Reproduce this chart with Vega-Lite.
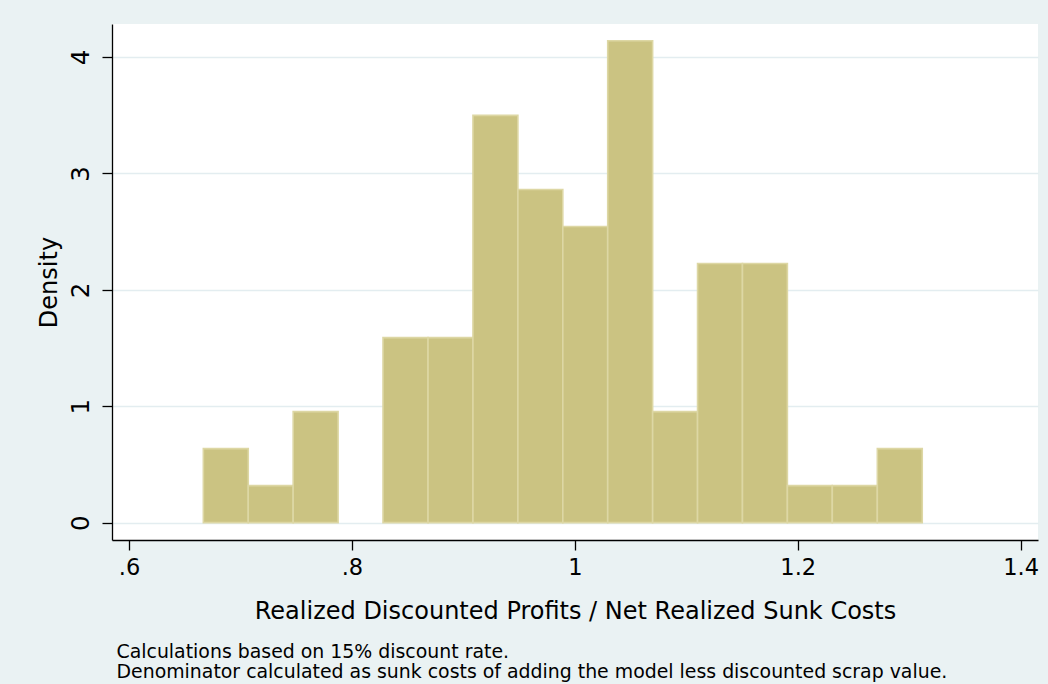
{
  "$schema": "https://vega.github.io/schema/vega-lite/v6.json",
  "width": 926,
  "height": 516,
  "autosize": {"type": "none"},
  "padding": {"left": 112, "top": 24, "right": 10, "bottom": 144},
  "background": "#eaf2f3",
  "config": {
    "font": "DejaVu Sans",
    "view": {"fill": "white", "stroke": null}
  },
  "title": {
    "text": ["Calculations based on 15% discount rate.", "Denominator calculated as sunk costs of adding the model less discounted scrap value."],
    "orient": "bottom",
    "anchor": "start",
    "frame": "group",
    "font": "DejaVu Sans",
    "fontSize": 18.9,
    "fontWeight": "normal",
    "color": "black",
    "lineHeight": 20.7,
    "dx": 4.5,
    "offset": 19
  },
  "data": {
    "values": [
      {"bin_start": 0.6667, "bin_end": 0.7070, "density": 0.636},
      {"bin_start": 0.7070, "bin_end": 0.7473, "density": 0.318},
      {"bin_start": 0.7473, "bin_end": 0.7876, "density": 0.954},
      {"bin_start": 0.8279, "bin_end": 0.8683, "density": 1.590},
      {"bin_start": 0.8683, "bin_end": 0.9086, "density": 1.590},
      {"bin_start": 0.9086, "bin_end": 0.9489, "density": 3.499},
      {"bin_start": 0.9489, "bin_end": 0.9892, "density": 2.862},
      {"bin_start": 0.9892, "bin_end": 1.0295, "density": 2.544},
      {"bin_start": 1.0295, "bin_end": 1.0698, "density": 4.140},
      {"bin_start": 1.0698, "bin_end": 1.1101, "density": 0.954},
      {"bin_start": 1.1101, "bin_end": 1.1504, "density": 2.226},
      {"bin_start": 1.1504, "bin_end": 1.1907, "density": 2.226},
      {"bin_start": 1.1907, "bin_end": 1.2310, "density": 0.318},
      {"bin_start": 1.2310, "bin_end": 1.2714, "density": 0.318},
      {"bin_start": 1.2714, "bin_end": 1.3117, "density": 0.636}
    ]
  },
  "mark": {"type": "rect", "fill": "#cbc382", "stroke": "#ddd7a4", "strokeWidth": 1.6},
  "encoding": {
    "x": {
      "field": "bin_start",
      "type": "quantitative",
      "scale": {"domain": [0.58475, 1.41555], "nice": false, "zero": false},
      "axis": {
        "values": [0.6, 0.8, 1, 1.2, 1.4],
        "labelExpr": "datum.value < 1 ? substring(format(datum.value, '.1f'), 1) : format(datum.value, '.1~f')",
        "grid": false,
        "domainColor": "black",
        "domainWidth": 1.3,
        "tickColor": "black",
        "tickWidth": 1.3,
        "tickSize": 10,
        "labelFontSize": 22.5,
        "labelColor": "black",
        "labelPadding": 6,
        "labelFlush": false,
        "labelOverlap": false,
        "title": "Realized Discounted Profits / Net Realized Sunk Costs",
        "titleFontSize": 24,
        "titleFontWeight": "normal",
        "titleColor": "black",
        "titlePadding": 21
      }
    },
    "x2": {"field": "bin_end"},
    "y": {
      "field": "density",
      "type": "quantitative",
      "scale": {"domain": [-0.149, 4.284], "nice": false, "zero": false},
      "axis": {
        "values": [0, 1, 2, 3, 4],
        "grid": true,
        "gridColor": "#e3edf0",
        "gridWidth": 1.3,
        "domainColor": "black",
        "domainWidth": 1.3,
        "tickColor": "black",
        "tickWidth": 1.3,
        "tickSize": 10,
        "labelAngle": 270,
        "labelAlign": "center",
        "labelBaseline": "bottom",
        "labelFontSize": 24.5,
        "labelColor": "black",
        "labelPadding": 9,
        "labelFlush": false,
        "labelOverlap": false,
        "title": "Density",
        "titleFontSize": 24,
        "titleFontWeight": "normal",
        "titleColor": "black",
        "titlePadding": 7
      }
    },
    "y2": {"datum": 0}
  }
}
